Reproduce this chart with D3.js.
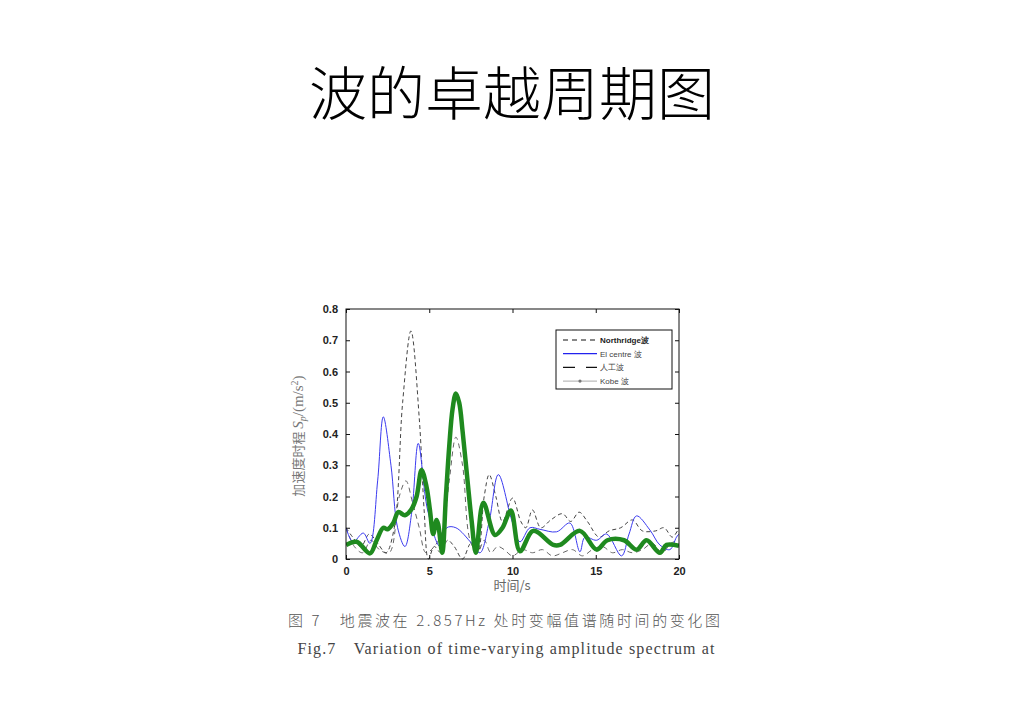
<!DOCTYPE html>
<html><head><meta charset="utf-8">
<script src="https://cdn.jsdelivr.net/npm/d3@7"></script>
<style>body{margin:0;background:#fff;}svg{display:block;}</style>
</head><body>
<svg id="c" width="1024" height="724"></svg>
<script>
const xTicks = [0, 5, 10, 15, 20];
const yTicks = [0, 0.1, 0.2, 0.3, 0.4, 0.5, 0.6, 0.7, 0.8];
const seriesNames = ["Northridge波", "El centre 波", "人工波", "Kobe 波"];

const northT = [0,0.4,0.9,1.4,1.9,2.4,2.9,3.4,3.9,4.4,4.7,4.95,5.3,5.7,6.1,6.5,7.0,7.5,7.9,8.3,8.6,9.0,9.4,10.0,10.5,10.8,11.2,11.7,12.3,13.0,13.5,14.0,14.5,15.2,15.8,16.5,17.2,17.8,18.6,19.1,19.6,20];
const northV = [0.10,0.07,0.04,0.08,0.05,0.02,0.10,0.50,0.73,0.45,0.15,0.0,0.04,0.02,0.06,0.04,0.0,0.05,0.02,0.20,0.27,0.20,0.12,0.195,0.12,0.10,0.157,0.10,0.125,0.145,0.12,0.15,0.12,0.07,0.09,0.10,0.125,0.09,0.09,0.10,0.07,0.10];

const elT = [0,0.42,1.04,1.44,1.9,2.24,2.7,3.1,3.54,3.95,4.34,4.9,5.64,6.05,6.6,7.55,8.05,8.6,9.15,9.95,10.45,11.05,11.65,12.65,13.45,14.05,14.35,15.05,15.65,16.55,17.0,17.45,18.25,18.85,19.45,19.85,20];
const elV = [0.10,0.055,0.083,0.05,0.25,0.455,0.30,0.10,0.04,0.15,0.37,0.157,0.04,0.10,0.10,0.05,0.02,0.12,0.27,0.125,0.055,0.10,0.095,0.087,0.115,0.023,0.07,0.06,0.08,0.01,0.08,0.138,0.093,0.045,0.03,0.07,0.08];

const artT = [0,0.5,1.0,1.5,2.0,2.6,3.2,3.6,4.0,4.4,4.8,5.3,5.8,6.2,6.6,7.0,7.45,7.9,8.3,8.7,9.1,9.5,10.0,10.6,11.2,11.8,12.4,13.0,13.6,14.2,14.8,15.4,16.0,16.6,17.2,17.8,18.4,19.0,19.5,20];
const artV = [0.10,0.04,0.02,0.06,0.03,0.02,0.20,0.25,0.18,0.10,0.02,0.04,0.09,0.25,0.39,0.30,0.06,0.02,0.06,0.02,0.04,0.03,0.01,0.03,0.02,0.03,0.01,0.02,0.03,0.01,0.03,0.04,0.02,0.03,0.02,0.03,0.05,0.02,0.05,0.06];

const kobeT = [0,0.64,1.44,1.84,2.24,2.5,2.84,3.14,3.54,3.94,4.24,4.54,4.84,5.04,5.24,5.44,5.54,5.78,6.0,6.2,6.4,6.6,6.8,7.0,7.3,7.55,7.8,8.25,8.95,9.4,9.9,10.45,11.25,12.45,12.85,14.05,15.05,15.7,16.7,17.45,18.05,18.85,19.25,20];
const kobeV = [0.045,0.055,0.018,0.06,0.10,0.095,0.115,0.15,0.14,0.16,0.20,0.285,0.23,0.157,0.08,0.125,0.11,0.02,0.20,0.36,0.48,0.53,0.50,0.41,0.25,0.12,0.02,0.18,0.077,0.10,0.155,0.025,0.09,0.045,0.045,0.09,0.03,0.06,0.06,0.03,0.06,0.02,0.045,0.042];

const svg = d3.select("#c");
const L = 346, R = 679, T = 309, B = 559;
const x = d3.scaleLinear().domain([0, 20]).range([L, R]);
const y = d3.scaleLinear().domain([0, 0.8]).range([B, T]);

// Title
svg.append("text").attr("x", 512).attr("y", 115).attr("text-anchor", "middle")
  .attr("font-family", "'Noto Sans CJK SC'").attr("font-weight", 300).attr("font-size", 58)
  .attr("fill", "#000").text("波的卓越周期图");

svg.append("defs").append("clipPath").attr("id", "clip")
  .append("rect").attr("x", L).attr("y", T).attr("width", R - L).attr("height", B - T + 1);

const g = svg.append("g").attr("clip-path", "url(#clip)");
const line = d3.line().x(d => x(d[0])).y(d => y(d[1])).curve(d3.curveCatmullRom.alpha(0.5));
const zip = (a, b) => a.map((t, i) => [t, b[i]]);

g.append("path").attr("d", line(zip(artT, artV))).attr("fill", "none")
  .attr("stroke", "#666").attr("stroke-width", 1).attr("stroke-dasharray", "5,4");
g.append("path").attr("d", line(zip(northT, northV))).attr("fill", "none")
  .attr("stroke", "#444").attr("stroke-width", 1).attr("stroke-dasharray", "4,3");
g.append("path").attr("d", line(zip(elT, elV))).attr("fill", "none")
  .attr("stroke", "#3b3bf0").attr("stroke-width", 1);
g.append("path").attr("d", line(zip(kobeT, kobeV))).attr("fill", "none")
  .attr("stroke", "#1f8a1f").attr("stroke-width", 4.5).attr("stroke-linejoin", "round");

// Frame
svg.append("rect").attr("x", L).attr("y", T).attr("width", R - L).attr("height", B - T)
  .attr("fill", "none").attr("stroke", "#111").attr("stroke-width", 1);

// Axes
const fontAx = "'Liberation Sans', Arial, sans-serif";
const yAx = svg.append("g").attr("transform", `translate(${L},0)`)
  .call(d3.axisLeft(y).tickValues(yTicks).tickSize(-4).tickPadding(8).tickFormat(d => d === 0 ? "0" : d3.format(".1f")(d)));
const yAxR = svg.append("g").attr("transform", `translate(${R},0)`)
  .call(d3.axisRight(y).tickValues(yTicks).tickSize(-4).tickFormat(""));
const xAx = svg.append("g").attr("transform", `translate(0,${B})`)
  .call(d3.axisBottom(x).tickValues(xTicks).tickSize(-4).tickPadding(8));
const xAxT = svg.append("g").attr("transform", `translate(0,${T})`)
  .call(d3.axisTop(x).tickValues(xTicks).tickSize(-4).tickFormat(""));
[yAx, yAxR, xAx, xAxT].forEach(a => {
  a.select(".domain").remove();
  a.selectAll("line").attr("stroke", "#111");
  a.selectAll("text").attr("font-family", fontAx).attr("font-size", 11).attr("font-weight", "bold").attr("fill", "#222");
});

// Axis labels
svg.append("text").attr("x", 512).attr("y", 590).attr("text-anchor", "middle")
  .attr("font-family", "'Noto Sans CJK SC'").attr("font-size", 13).attr("fill", "#666").text("时间/s");
const yl = svg.append("text").attr("transform", "translate(303,436) rotate(-90)").attr("text-anchor", "middle")
  .attr("font-size", 15).attr("fill", "#777");
yl.append("tspan").attr("font-family", "'Noto Sans CJK SC'").attr("font-size", 13).text("加速度时程 ");
yl.append("tspan").attr("font-family", "'Liberation Serif', serif").attr("font-style", "italic").text("S");
yl.append("tspan").attr("font-family", "'Liberation Serif', serif").attr("font-style", "italic").attr("font-size", 10).attr("dy", 3).text("p");
yl.append("tspan").attr("font-family", "'Liberation Serif', serif").attr("dy", -3).text("/(m/s");
yl.append("tspan").attr("font-family", "'Liberation Serif', serif").attr("font-size", 10).attr("dy", -5).text("2");
yl.append("tspan").attr("font-family", "'Liberation Serif', serif").attr("dy", 5).text(")");

// Legend
const lg = svg.append("g");
lg.append("rect").attr("x", 556).attr("y", 330).attr("width", 116).attr("height", 59)
  .attr("fill", "#fff").attr("stroke", "#111").attr("stroke-width", 1);
const legStyles = [
  {stroke: "#111", dash: "5,4", w: 1},
  {stroke: "#2222ee", dash: null, w: 1.2},
  {stroke: "#111", dash: "12,11", w: 1.2},
  {stroke: "#aaa", dash: null, w: 1, marker: true}
];
seriesNames.forEach((n, i) => {
  const yy = 340 + i * 13.7;
  const s = legStyles[i];
  const ln = lg.append("line").attr("x1", 563).attr("x2", 597).attr("y1", yy).attr("y2", yy)
    .attr("stroke", s.stroke).attr("stroke-width", s.w);
  if (s.dash) ln.attr("stroke-dasharray", s.dash);
  if (s.marker) lg.append("circle").attr("cx", 580).attr("cy", yy).attr("r", 1.6).attr("fill", "#777");
  lg.append("text").attr("x", 600).attr("y", yy + 3).attr("font-family", fontAx)
    .attr("font-size", 8).attr("font-weight", i === 0 ? "bold" : "normal").attr("fill", i === 0 ? "#222" : "#444").text(n);
});

// Caption
svg.append("text").attr("x", 504).attr("y", 626).attr("text-anchor", "middle")
  .attr("font-family", "'Noto Sans CJK SC'").attr("font-weight", 300).attr("font-size", 15).attr("fill", "#555")
  .attr("textLength", 432).text("图 7　地震波在 2.857Hz 处时变幅值谱随时间的变化图");
svg.append("text").attr("x", 506).attr("y", 654).attr("text-anchor", "middle")
  .attr("font-family", "'Liberation Serif', serif").attr("font-size", 16).attr("fill", "#444")
  .attr("textLength", 417).text("Fig.7　Variation of time-varying amplitude spectrum at");
</script>
</body></html>
